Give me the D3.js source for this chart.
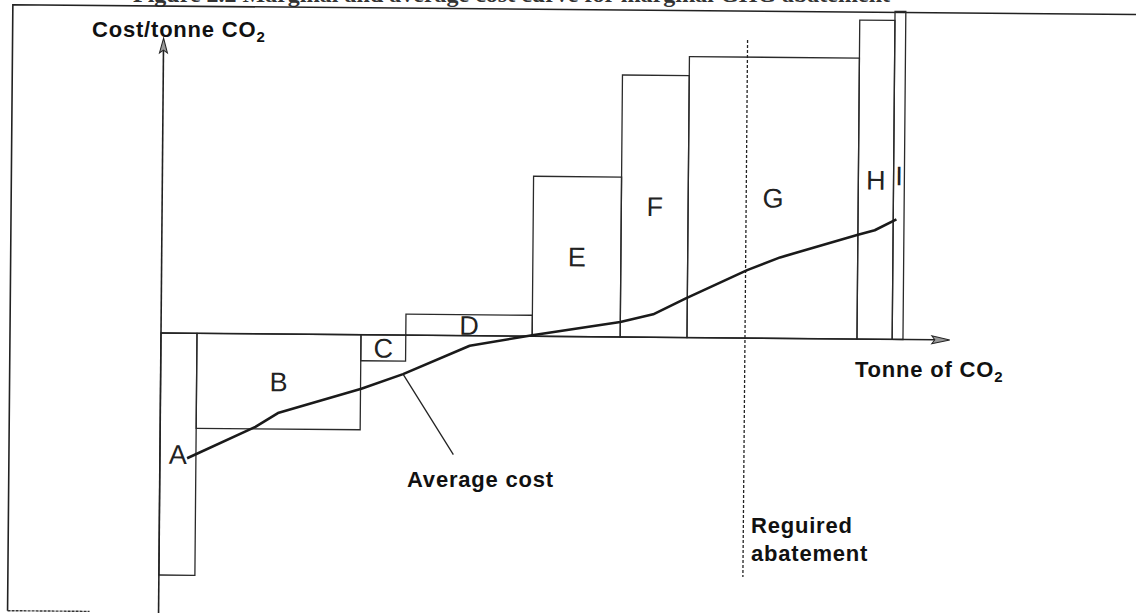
<!DOCTYPE html>
<html>
<head>
<meta charset="utf-8">
<script src="https://cdn.jsdelivr.net/npm/d3@7"></script>
<style>
  html, body { margin: 0; padding: 0; background: #fff; }
  svg { display: block; }
  .lbl { font-family: "Liberation Sans", Arial, sans-serif; font-weight: bold; font-size: 22px; letter-spacing: 0.8px; fill: #111; }
  .opt { font-family: "Liberation Sans", Arial, sans-serif; font-size: 27px; fill: #222; }
</style>
</head>
<body>
<svg id="chart" width="1136" height="613"></svg>
<script>
// abatement options, width = tonnes abated, height = cost per tonne
var options = ["A", "B", "C", "D", "E", "F", "G", "H", "I"];
var tonnes = [4.5, 20.5, 5.6, 15.8, 11.0, 8.35, 21.25, 4.4, 1.35];
var costs = [-24.2, -9.5, -2.6, 2.1, 16.0, 26.2, 28.1, 31.9, 32.8];

// average cost curve
var avgTonnes = [3.4, 11.9, 14.7, 25.1, 30.3, 38.6, 46.4, 57.4, 61.5, 65.5, 73.2, 77.3, 86.9, 89.1, 91.8];
var avgCost = [-12.5, -9.3, -7.9, -5.4, -3.9, -1.0, 0.1, 1.5, 2.3, 3.9, 6.8, 8.1, 10.4, 10.9, 12.0];

var requiredAbatement = 73;

var svg = d3.select("#chart");

var x = d3.scaleLinear().domain([0, 100]).range([161, 961]);
var y = d3.scaleLinear().domain([-30, 33]).range([633, 3]);

// caption of the page, cut by the top edge of the scan
svg.append("text")
    .attr("x", 890).attr("y", 1.5)
    .attr("text-anchor", "end")
    .style("font-family", "'Liberation Serif', 'Times New Roman', serif")
    .style("font-weight", "bold")
    .style("font-size", "24px")
    .style("fill", "#333")
    .text("Figure 2.2  Marginal and average cost curve for marginal GHG abatement");

// the scan is a little tilted
var g = svg.append("g").attr("transform", "rotate(0.5,160,333)");

// frame
g.append("path")
    .attr("d", "M10,612 L10,6 L1145,6")
    .attr("fill", "none").attr("stroke", "#222").attr("stroke-width", 1.6);
g.append("line")
    .attr("x1", 10).attr("x2", 92).attr("y1", 612).attr("y2", 612)
    .attr("stroke", "#333").attr("stroke-width", 1.4).attr("stroke-dasharray", "3,1");

var starts = [0].concat(Array.from(d3.cumsum(tonnes))).slice(0, tonnes.length);

var boxes = options.map(function(o, i) {
  return { name: o, x0: starts[i], x1: starts[i] + tonnes[i], cost: costs[i] };
});

g.selectAll(".box")
    .data(boxes)
  .enter().append("rect")
    .attr("class", "box")
    .attr("x", function(d) { return x(d.x0); })
    .attr("width", function(d) { return x(d.x1) - x(d.x0); })
    .attr("y", function(d) { return Math.min(y(d.cost), y(0)); })
    .attr("height", function(d) { return Math.abs(y(d.cost) - y(0)); })
    .attr("fill", "none")
    .attr("stroke", "#2a2a2a")
    .attr("stroke-width", 1.3);

g.selectAll(".opt")
    .data(boxes)
  .enter().append("text")
    .attr("class", "opt")
    .attr("x", function(d) { return (x(d.x0) + x(d.x1)) / 2; })
    .attr("y", function(d) { return (y(d.cost) + y(0)) / 2; })
    .attr("dy", "0.36em")
    .attr("text-anchor", "middle")
    .text(function(d) { return d.name; });

// axes with arrow heads
var axisEnd = 98.6;
g.append("line")
    .attr("x1", x(0)).attr("x2", x(axisEnd) - 14)
    .attr("y1", y(0)).attr("y2", y(0))
    .attr("stroke", "#222").attr("stroke-width", 1.5);
g.append("path")
    .attr("d", "M" + x(axisEnd) + "," + y(0) + " l-18,-4 l3,4 l-3,4 z")
    .attr("fill", "#999").attr("stroke", "#222").attr("stroke-width", 1);

g.append("line")
    .attr("x1", x(0)).attr("x2", x(0))
    .attr("y1", y(29.5) + 12).attr("y2", y(-28.5))
    .attr("stroke", "#222").attr("stroke-width", 1.6);
g.append("path")
    .attr("d", "M" + x(0) + "," + y(29.5) + " l-4,15 l4,-3 l4,3 z")
    .attr("fill", "#999").attr("stroke", "#222").attr("stroke-width", 1);

// required abatement
g.append("line")
    .attr("x1", x(requiredAbatement)).attr("x2", x(requiredAbatement))
    .attr("y1", y(29.8)).attr("y2", y(-23.9))
    .attr("stroke", "#222").attr("stroke-width", 1.3)
    .attr("stroke-dasharray", "3,2");

// average cost curve
var line = d3.line()
    .x(function(d) { return x(d[0]); })
    .y(function(d) { return y(d[1]); });

g.append("path")
    .datum(d3.zip(avgTonnes, avgCost))
    .attr("d", line)
    .attr("fill", "none")
    .attr("stroke", "#1a1a1a")
    .attr("stroke-width", 2.6)
    .attr("stroke-linejoin", "round");

// leader to the label
g.append("line")
    .attr("x1", x(avgTonnes[4])).attr("y1", y(avgCost[4]))
    .attr("x2", x(avgTonnes[4]) + 51).attr("y2", y(avgCost[4]) + 80)
    .attr("stroke", "#222").attr("stroke-width", 1.3);

// text labels
function label(tx, ty, main, sub) {
  var t = svg.append("text").attr("class", "lbl").attr("x", tx).attr("y", ty).text(main);
  if (sub) {
    t.append("tspan").attr("dy", 5).style("font-size", "15px").text(sub);
  }
  return t;
}

label(92, 37, "Cost/tonne CO", "2");
label(855, 377, "Tonne of CO", "2");
label(407, 487, "Average cost");
label(x(requiredAbatement) + 6, 533, "Reguired");
label(x(requiredAbatement) + 6, 561, "abatement");
</script>
</body>
</html>
